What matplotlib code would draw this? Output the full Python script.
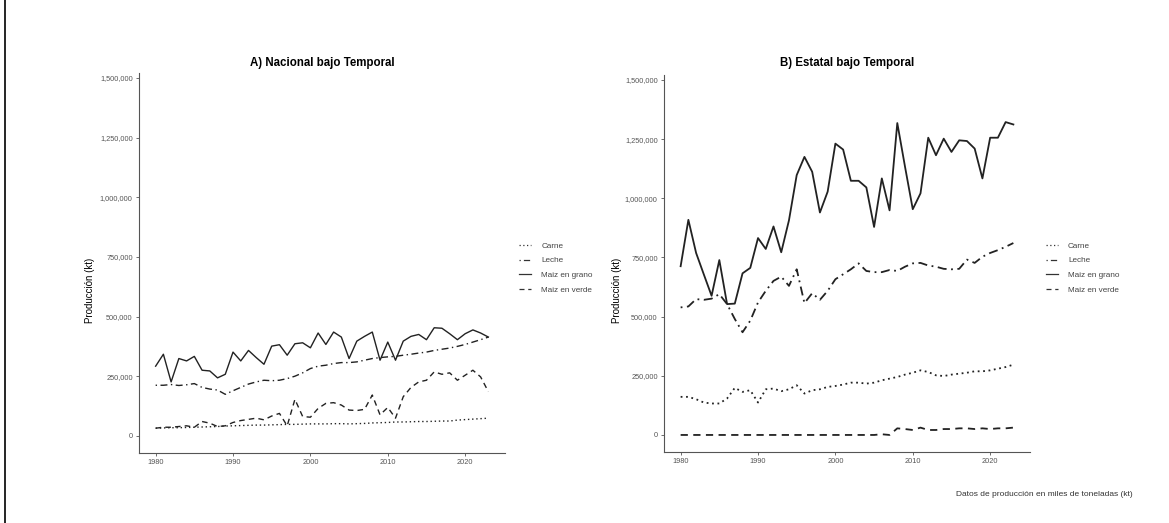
import numpy as np
import matplotlib.pyplot as plt
from matplotlib.lines import Line2D
from matplotlib.ticker import FuncFormatter

plt.rcParams['font.family'] = ['Liberation Sans', 'DejaVu Sans']

anios = np.arange(1980, 2024)
series = ["Carne", "Leche", "Maiz en grano", "Maiz en verde"]

# Nacional bajo temporal (kt)
nac_carne = [32, 33, 34, 34, 35, 36, 37, 38, 39, 41, 42, 43, 44, 45, 45, 46, 47, 48, 48, 49,
             50, 50, 50, 51, 51, 50, 51, 52, 54, 55, 56, 58, 58, 59, 60, 60, 61, 62, 62, 66,
             68, 70, 72, 74]
nac_leche = [212, 212, 215, 211, 214, 219, 203, 196, 192, 174, 189, 203, 217, 226, 233, 231,
             233, 240, 250, 264, 282, 292, 296, 303, 307, 307, 310, 317, 324, 328, 331, 333,
             338, 342, 347, 351, 358, 363, 368, 375, 383, 393, 403, 414]
nac_grano = [292, 342, 226, 324, 314, 333, 275, 272, 243, 258, 351, 314, 358, 328, 300, 376,
             382, 338, 386, 390, 369, 431, 383, 435, 414, 324, 397, 417, 435, 317, 393, 317,
             397, 417, 425, 403, 453, 451, 428, 403, 428, 444, 431, 414]
nac_verde = [32, 36, 36, 39, 42, 36, 60, 53, 39, 42, 56, 64, 69, 74, 67, 83, 94, 42, 153, 81,
             78, 115, 136, 139, 129, 108, 106, 111, 171, 88, 119, 74, 164, 203, 226, 233, 268,
             258, 264, 233, 254, 275, 247, 185]

# Estatal bajo temporal (kt)
est_carne = [161, 161, 151, 137, 133, 133, 154, 199, 182, 189, 137, 193, 196, 185, 193, 210,
             175, 189, 193, 203, 207, 213, 221, 221, 217, 221, 231, 238, 245, 255, 263, 273,
             266, 252, 249, 255, 259, 263, 269, 269, 273, 280, 287, 297]
est_leche = [539, 543, 574, 571, 576, 595, 553, 490, 434, 483, 560, 609, 651, 669, 630, 700,
             557, 599, 571, 609, 658, 679, 700, 725, 693, 688, 688, 697, 693, 711, 725, 727,
             716, 711, 702, 700, 702, 741, 727, 753, 769, 781, 795, 811]
est_grano = [713, 909, 769, 678, 588, 739, 553, 555, 683, 706, 832, 786, 881, 772, 907, 1098,
             1175, 1112, 940, 1028, 1231, 1206, 1074, 1074, 1046, 879, 1084, 949, 1318, 1133,
             954, 1021, 1256, 1182, 1252, 1196, 1245, 1242, 1210, 1084, 1256, 1256, 1322, 1312]
est_verde = [0, 0, 0, 0, 0, 0, 0, 0, 0, 0, 0, 0, 0, 0, 0, 0, 0, 0, 0, 0,
             0, 0, 0, 0, 0, 0, 3, 0, 28, 25, 21, 31, 21, 21, 25, 25, 28, 28, 25, 28,
             25, 28, 28, 31]

yticks = [0, 250000, 500000, 750000, 1000000, 1250000, 1500000]
xticks = [1980, 1990, 2000, 2010, 2020]

estilos = {
    "Carne": (0, (1, 2)),
    "Leche": (0, (1, 2.5, 5, 2.5)),
    "Maiz en grano": "-",
    "Maiz en verde": (0, (4, 3)),
}

W, H = 1169, 523
fig = plt.figure(figsize=(W / 100, H / 100), dpi=100)
gris = '#555555'


def px(l, t, r, b):
    return [l / W, 1 - b / H, (r - l) / W, (b - t) / H]


def panel(caja, datos, titulo, ylab_x, leg_x, lw):
    ax = fig.add_axes(px(*caja))
    for nombre, vals in zip(series, datos):
        ax.plot(anios, np.array(vals) * 1000, color='#222222', lw=lw,
                linestyle=estilos[nombre], label=nombre)
    ax.set_xlim(1977.85, 2025.15)
    ax.set_ylim(-72000, 1521000)
    ax.set_xticks(xticks)
    ax.set_yticks(yticks)
    ax.yaxis.set_major_formatter(FuncFormatter(lambda v, p: f"{int(v):,}"))
    for s in ['top', 'right']:
        ax.spines[s].set_visible(False)
    for s in ['left', 'bottom']:
        ax.spines[s].set_color(gris)
        ax.spines[s].set_linewidth(0.8)
    ax.tick_params(colors=gris, labelsize=5.3, length=2.5, width=0.6, pad=2)
    cx = (caja[0] + caja[2]) / 2
    fig.text(cx / W, 1 - 63 / H, titulo, ha='center', va='center',
             fontsize=8.3, fontweight='bold')
    fig.text(ylab_x / W, 1 - 290 / H, "Producción (kt)", rotation=90,
             ha='center', va='center', fontsize=7)
    h, l = ax.get_legend_handles_labels()
    leg = fig.legend(h, l, loc='upper left', bbox_to_anchor=(leg_x / W, 1 - 242 / H),
                     frameon=False, fontsize=5.9, handlelength=1.5, handletextpad=1.2,
                     labelspacing=0.85, borderpad=0, borderaxespad=0,
                     labelcolor='#444444')
    for linea in leg.get_lines():
        linea.set_linewidth(0.9)
        linea.set_color('#333333')
    return ax


panel((139, 73, 505, 453), [nac_carne, nac_leche, nac_grano, nac_verde],
      "A) Nacional bajo Temporal", 90, 519, 1.0)
panel((664, 75, 1030, 452), [est_carne, est_leche, est_grano, est_verde],
      "B) Estatal bajo Temporal", 617, 1046, 1.3)

fig.text(1133 / W, 1 - 494 / H, "Datos de producción en miles de toneladas (kt)",
         ha='right', va='center', fontsize=6, color='#333333')

# borde izquierdo
fig.add_artist(Line2D([5 / W, 5 / W], [0, 1], color='black', lw=1.2))

fig.savefig("out.png", dpi=100)
